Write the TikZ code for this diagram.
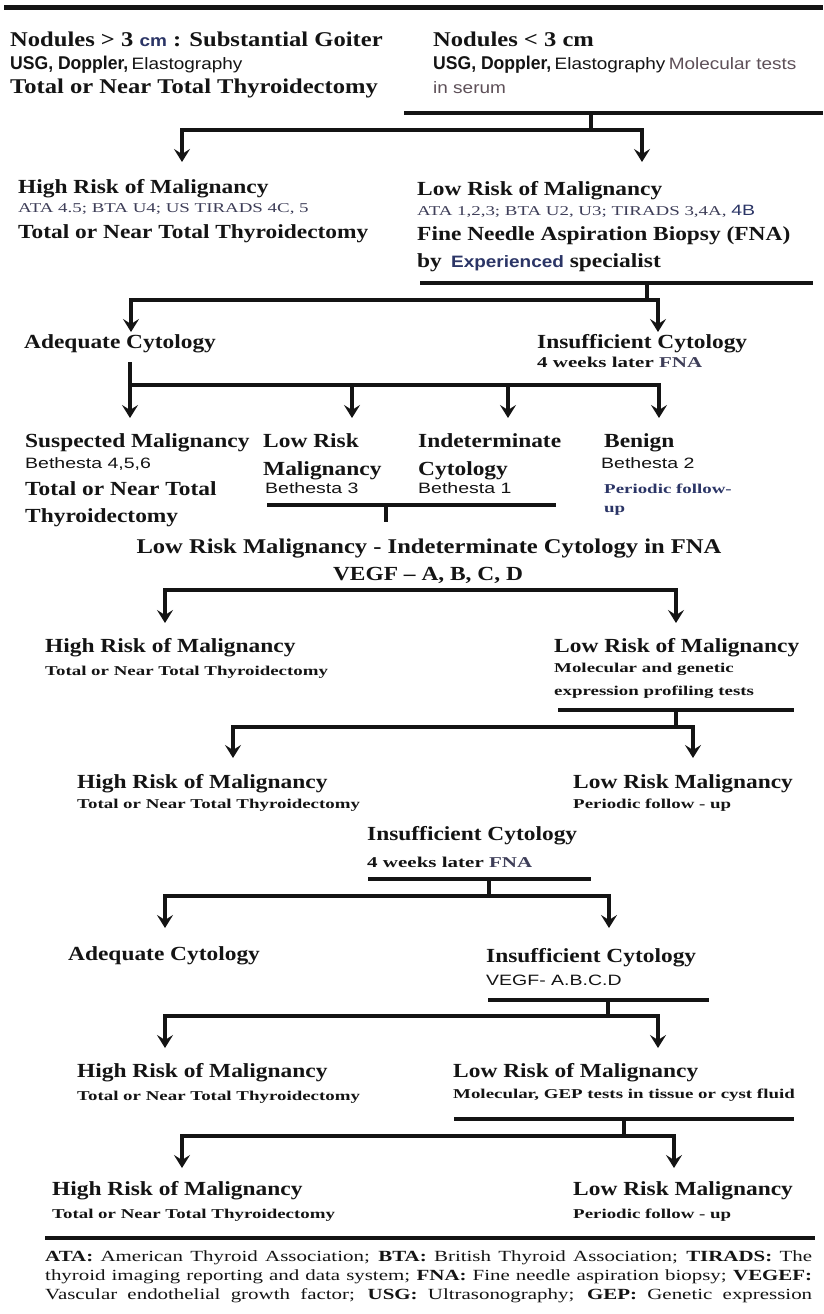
\documentclass[tikz,border=0pt]{standalone}
\usepackage{fontspec}
\usetikzlibrary{arrows.meta}
\newfontfamily\HdF[FakeStretch=1.17]{Liberation Serif}
\newfontfamily\SmF[FakeStretch=1.4]{Liberation Serif}
\newfontfamily\FtF[FakeStretch=1.35]{Liberation Serif}
\newfontfamily\ArF[FakeStretch=1.15]{Liberation Sans}
\newfontfamily\ArN[FakeStretch=0.95]{Liberation Sans}
\newfontfamily\ArW[FakeStretch=1.3]{Liberation Sans}
\newcommand\fhd{\HdF\bfseries\fontsize{20}{24}\selectfont}
\newcommand\fbig{\HdF\bfseries\fontsize{21}{25}\selectfont}
\newcommand\fsm{\SmF\bfseries\fontsize{13.5}{16}\selectfont}
\newcommand\fat{\SmF\fontsize{13.5}{16}\selectfont}
\newcommand\fwk{\SmF\bfseries\fontsize{15}{18}\selectfont}
\newcommand\far{\ArF\fontsize{16.5}{19}\selectfont}
\newcommand\fnb{\ArN\bfseries\fontsize{18.5}{20}\selectfont}
\newcommand\fbe{\ArW\fontsize{15}{18}\selectfont}
\newcommand\fft{\FtF\fontsize{15.5}{18}\selectfont}
\definecolor{ink}{HTML}{141414}
\definecolor{navy}{HTML}{2B3566}
\definecolor{slate}{HTML}{3E3E58}
\definecolor{mauve}{HTML}{5E5058}
\begin{document}
\begin{tikzpicture}[x=1pt,y=-1pt,
  txt/.style={anchor=base west, inner sep=0pt, text=ink},
  ctxt/.style={anchor=base, inner sep=0pt, text=ink},
  conn/.style={line width=3.5pt, draw=ink},
  arr/.style={conn, -{Stealth[length=13pt,width=16pt,inset=5pt]}},
  rulel/.style={line width=4pt, draw=ink}]
\useasboundingbox (0,0) rectangle (823,1314);
\fill[white] (0,0) rectangle (823,1314);

% top rule
\coordinate (t1) at (4,8); \coordinate (t2) at (823,8);
\draw[line width=5pt, draw=ink] (t1) -- (t2);

% header
\node[txt] (n1a) at (10,47) {\fbig Nodules > 3 {\far\color{navy}cm} : Substantial Goiter};
\node[txt] (n1b) at (10,70) {{\fnb USG, Doppler,} {\far Elastography}};
\node[txt] (n1c) at (10,93) {\fbig Total or Near Total Thyroidectomy};
\node[txt] (n2a) at (433,47) {\fbig Nodules < 3 cm};
\node[txt] (n2b) at (433,70) {{\fnb USG, Doppler,} {\far Elastography} {\far\color{mauve}Molecular tests}};
\node[txt] (n2c) at (433,93) {\far\color{mauve}in serum};
\coordinate (r0a) at (404,113); \coordinate (r0b) at (823,113);
\draw[rulel] (r0a) -- (r0b);
\coordinate (v0a) at (591,113); \coordinate (v0b) at (591,130);
\coordinate (a0l) at (182,162); \coordinate (a0r) at (642,162);
\draw[conn] (v0a) -- (v0b);
\draw[arr] (v0b) -| (a0l);
\draw[arr] (v0b) -| (a0r);

% level 2
\node[txt] (hr1) at (18,193) {\fhd High Risk of Malignancy};
\node[txt] (hr1b) at (18,212) {\fat\color{slate}ATA 4.5; BTA U4; US TIRADS 4C, 5};
\node[txt] (hr1c) at (18,238) {\fhd Total or Near Total Thyroidectomy};
\node[txt] (lr1) at (417,195) {\fhd Low Risk of Malignancy};
\node[txt] (lr1b) at (417,215) {\fat\color{slate}ATA 1,2,3; BTA U2, U3; TIRADS 3,4A, {\fbe\color{navy}4B}};
\node[txt] (lr1c) at (417,240) {\fhd Fine Needle Aspiration Biopsy (FNA)};
\node[txt] (lr1d) at (417,267) {\fhd by\, {\far\color{navy}Experienced} specialist};
\coordinate (r1a) at (420,283); \coordinate (r1b) at (813,283);
\draw[rulel] (r1a) -- (r1b);
\coordinate (v1a) at (647,283); \coordinate (v1b) at (647,300);
\coordinate (a1l) at (131,332); \coordinate (a1r) at (658,332);
\draw[conn] (v1a) -- (v1b);
\draw[arr] (v1b) -| (a1l);
\draw[arr] (v1b) -| (a1r);

% level 3
\node[txt] (ad1) at (24,348) {\fhd Adequate Cytology};
\node[txt] (in1) at (537,348) {\fhd Insufficient Cytology};
\node[txt] (in1b) at (537,367) {\fwk 4 weeks later {\color{slate}FNA}};
\coordinate (v2a) at (130,362); \coordinate (v2b) at (130,385);
\coordinate (a2a) at (130,418); \coordinate (a2b) at (352,418);
\coordinate (a2c) at (508,418); \coordinate (a2d) at (659,418);
\coordinate (j2b) at (352,385); \coordinate (j2c) at (508,385);
\draw[arr] (v2a) -- (a2a);
\draw[arr] (v2b) -| (a2d);
\draw[arr] (j2b) -- (a2b);
\draw[arr] (j2c) -- (a2c);

% level 4
\node[txt] (sm1) at (25,447) {\fhd Suspected Malignancy};
\node[txt] (sm2) at (25,468) {\fbe Bethesta 4,5,6};
\node[txt] (sm3) at (25,495) {\fhd Total or Near Total};
\node[txt] (sm4) at (25,522) {\fhd Thyroidectomy};
\node[txt] (lm1) at (263,447) {\fhd Low Risk};
\node[txt] (lm2) at (263,475) {\fhd Malignancy};
\node[txt] (lm3) at (265,493) {\fbe Bethesta 3};
\node[txt] (ic1) at (418,447) {\fhd Indeterminate};
\node[txt] (ic2) at (418,475) {\fhd Cytology};
\node[txt] (ic3) at (418,493) {\fbe Bethesta 1};
\node[txt] (bn1) at (604,447) {\fhd Benign};
\node[txt] (bn2) at (601,468) {\fbe Bethesta 2};
\node[txt] (bn3) at (604,493) {\fsm\color{navy}Periodic follow-};
\node[txt] (bn4) at (604,512) {\fsm\color{navy}up};
\coordinate (r3a) at (267,505); \coordinate (r3b) at (556,505);
\draw[rulel] (r3a) -- (r3b);
\coordinate (v3a) at (386,505); \coordinate (v3b) at (386,522);
\draw[conn] (v3a) -- (v3b);

% indeterminate block
\node[ctxt] (lri) at (429,553) {\fbig Low Risk Malignancy - Indeterminate Cytology in FNA};
\node[ctxt] (vg) at (428,580) {\fhd VEGF – A, B, C, D};
\coordinate (j4) at (428,590);
\coordinate (a4l) at (165,623); \coordinate (a4r) at (676,623);
\draw[arr] (j4) -| (a4l);
\draw[arr] (j4) -| (a4r);

% level 5
\node[txt] (hr2) at (45,652) {\fhd High Risk of Malignancy};
\node[txt] (hr2b) at (45,675) {\fsm Total or Near Total Thyroidectomy};
\node[txt] (lr2) at (554,652) {\fhd Low Risk of Malignancy};
\node[txt] (lr2b) at (554,672) {\fsm Molecular and genetic};
\node[txt] (lr2c) at (554,695) {\fsm expression profiling tests};
\coordinate (r5a) at (558,710); \coordinate (r5b) at (794,710);
\draw[rulel] (r5a) -- (r5b);
\coordinate (v5a) at (676,710); \coordinate (v5b) at (676,727);
\coordinate (a5l) at (233,758); \coordinate (a5r) at (693,758);
\draw[conn] (v5a) -- (v5b);
\draw[arr] (v5b) -| (a5l);
\draw[arr] (v5b) -| (a5r);

% level 6
\node[txt] (hr3) at (77,788) {\fhd High Risk of Malignancy};
\node[txt] (hr3b) at (77,808) {\fsm Total or Near Total Thyroidectomy};
\node[txt] (lr3) at (573,788) {\fhd Low Risk Malignancy};
\node[txt] (lr3b) at (573,808) {\fsm Periodic follow - up};

% insufficient cytology 2
\node[txt] (in2) at (367,840) {\fhd Insufficient Cytology};
\node[txt] (in2b) at (367,867) {\fwk 4 weeks later {\color{slate}FNA}};
\coordinate (r6a) at (368,879); \coordinate (r6b) at (591,879);
\draw[rulel] (r6a) -- (r6b);
\coordinate (v6a) at (489,879); \coordinate (v6b) at (489,896);
\coordinate (a6l) at (165,928); \coordinate (a6r) at (609,928);
\draw[conn] (v6a) -- (v6b);
\draw[arr] (v6b) -| (a6l);
\draw[arr] (v6b) -| (a6r);

% level 7
\node[txt] (ad2) at (68,960) {\fhd Adequate Cytology};
\node[txt] (in3) at (486,962) {\fhd Insufficient Cytology};
\node[txt] (in3b) at (486,985) {\fbe VEGF- A.B.C.D};
\coordinate (r7a) at (488,1000); \coordinate (r7b) at (709,1000);
\draw[rulel] (r7a) -- (r7b);
\coordinate (v7a) at (608,1000); \coordinate (v7b) at (608,1016);
\coordinate (a7l) at (165,1048); \coordinate (a7r) at (658,1048);
\draw[conn] (v7a) -- (v7b);
\draw[arr] (v7b) -| (a7l);
\draw[arr] (v7b) -| (a7r);

% level 8
\node[txt] (hr4) at (77,1077) {\fhd High Risk of Malignancy};
\node[txt] (hr4b) at (77,1100) {\fsm Total or Near Total Thyroidectomy};
\node[txt] (lr4) at (453,1077) {\fhd Low Risk of Malignancy};
\node[txt] (lr4b) at (453,1098) {\fsm Molecular, GEP tests in tissue or cyst fluid};
\coordinate (r8a) at (454,1119); \coordinate (r8b) at (794,1119);
\draw[rulel] (r8a) -- (r8b);
\coordinate (v8a) at (624,1119); \coordinate (v8b) at (624,1136);
\coordinate (a8l) at (182,1168); \coordinate (a8r) at (674,1168);
\draw[conn] (v8a) -- (v8b);
\draw[arr] (v8b) -| (a8l);
\draw[arr] (v8b) -| (a8r);

% level 9
\node[txt] (hr5) at (52,1195) {\fhd High Risk of Malignancy};
\node[txt] (hr5b) at (52,1218) {\fsm Total or Near Total Thyroidectomy};
\node[txt] (lr5) at (573,1195) {\fhd Low Risk Malignancy};
\node[txt] (lr5b) at (573,1218) {\fsm Periodic follow - up};

% footer
\coordinate (fa) at (45,1238); \coordinate (fb) at (815,1238);
\draw[line width=4.5pt, draw=ink] (fa) -- (fb);
\node[txt] (ft1) at (45,1261) {\fft\makebox[767pt][s]{{\bfseries ATA:} American Thyroid Association; {\bfseries BTA:} British Thyroid Association; {\bfseries TIRADS:} The}};
\node[txt] (ft2) at (45,1280) {\fft\makebox[767pt][s]{thyroid imaging reporting and data system; {\bfseries FNA:} Fine needle aspiration biopsy; {\bfseries VEGEF:}}};
\node[txt] (ft3) at (45,1299) {\fft\makebox[767pt][s]{Vascular endothelial growth factor; {\bfseries USG:} Ultrasonography; {\bfseries GEP:} Genetic expression}};
\end{tikzpicture}
\end{document}
